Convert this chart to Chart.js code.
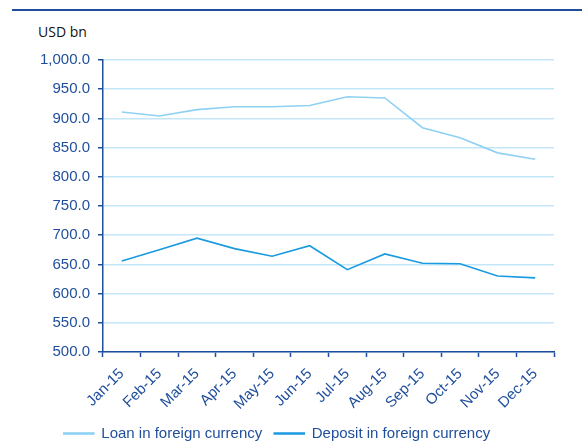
<!DOCTYPE html>
<html>
<head>
<meta charset="utf-8">
<script src="https://cdn.jsdelivr.net/npm/chart.js@4.4.0/dist/chart.umd.min.js"></script>
<style>
  body { margin: 0; background: #fff; }
  #wrap { position: relative; width: 582px; height: 442px; overflow: hidden; }
  #topline { position: absolute; left: 12px; top: 9px; width: 570px; height: 2px; background: #1f4e9c; }
  #unit { position: absolute; left: 38px; top: 22px; font: 14px "Open Sans", "Liberation Sans", sans-serif; color: #111; }
  canvas { position: absolute; left: 0; top: 0; }
</style>
</head>
<body>
<div id="wrap">
  <div id="topline"></div>
  <div id="unit">USD bn</div>
  <canvas id="chart" width="582" height="451"></canvas>
</div>
<script>
// data
var months = ['Jan-15', 'Feb-15', 'Mar-15', 'Apr-15', 'May-15', 'Jun-15', 'Jul-15', 'Aug-15', 'Sep-15', 'Oct-15', 'Nov-15', 'Dec-15']
var loanFx = [911, 904, 915, 920, 920, 922, 937, 935, 884, 867, 841, 830]
var depositFx = [656, 675, 695, 677, 664, 682, 641, 668, 652, 651, 630, 627]

var darkBlue = '#1f4e9c'
var lightLine = '#8fd1f2'
var midLine = '#1a9ae0'
var gridBlue = '#c3e6f8'

var ctx = document.getElementById('chart').getContext('2d')
new Chart(ctx, {
  type: 'line',
  data: {
    labels: months,
    datasets: [
      {
        label: 'Loan in foreign currency',
        data: loanFx,
        borderColor: lightLine,
        backgroundColor: lightLine,
        borderWidth: 1.6,
        pointRadius: 0,
        tension: 0,
      },
      {
        label: 'Deposit in foreign currency',
        data: depositFx,
        borderColor: midLine,
        backgroundColor: midLine,
        borderWidth: 1.6,
        pointRadius: 0,
        tension: 0,
      },
    ],
  },
  options: {
    responsive: false,
    animation: false,
    layout: { padding: { top: 60, right: 28, left: 0, bottom: 0 } },
    plugins: {
      tooltip: { enabled: false },
      legend: {
        position: 'bottom',
        labels: {
          boxWidth: 30,
          boxHeight: 1,
          color: darkBlue,
          padding: 12,
          font: { family: 'Liberation Sans, Arial, sans-serif', size: 15 },
        },
      },
    },
    scales: {
      x: {
        offset: true,
        grid: { offset: true, drawOnChartArea: false, tickLength: 5, tickColor: darkBlue, tickWidth: 1.5 },
        border: { color: darkBlue, width: 1.5 },
        ticks: {
          color: darkBlue,
          minRotation: 45,
          maxRotation: 45,
          padding: 8,
          font: { family: 'Liberation Sans, Arial, sans-serif', size: 15 },
        },
        afterFit: function (scale) { scale.height = 62 },
      },
      y: {
        min: 500,
        max: 1000,
        ticks: {
          stepSize: 50,
          color: darkBlue,
          padding: 8,
          font: { family: 'Liberation Sans, Arial, sans-serif', size: 15 },
          callback: function (v) {
            return v.toLocaleString('en-US', { minimumFractionDigits: 1, maximumFractionDigits: 1 })
          },
        },
        grid: { color: gridBlue, lineWidth: 1.5, tickLength: 5, tickColor: darkBlue, tickWidth: 1.5 },
        border: { color: darkBlue, width: 1.5 },
        afterFit: function (scale) { scale.width = 103 },
      },
    },
  },
})
</script>
</body>
</html>
